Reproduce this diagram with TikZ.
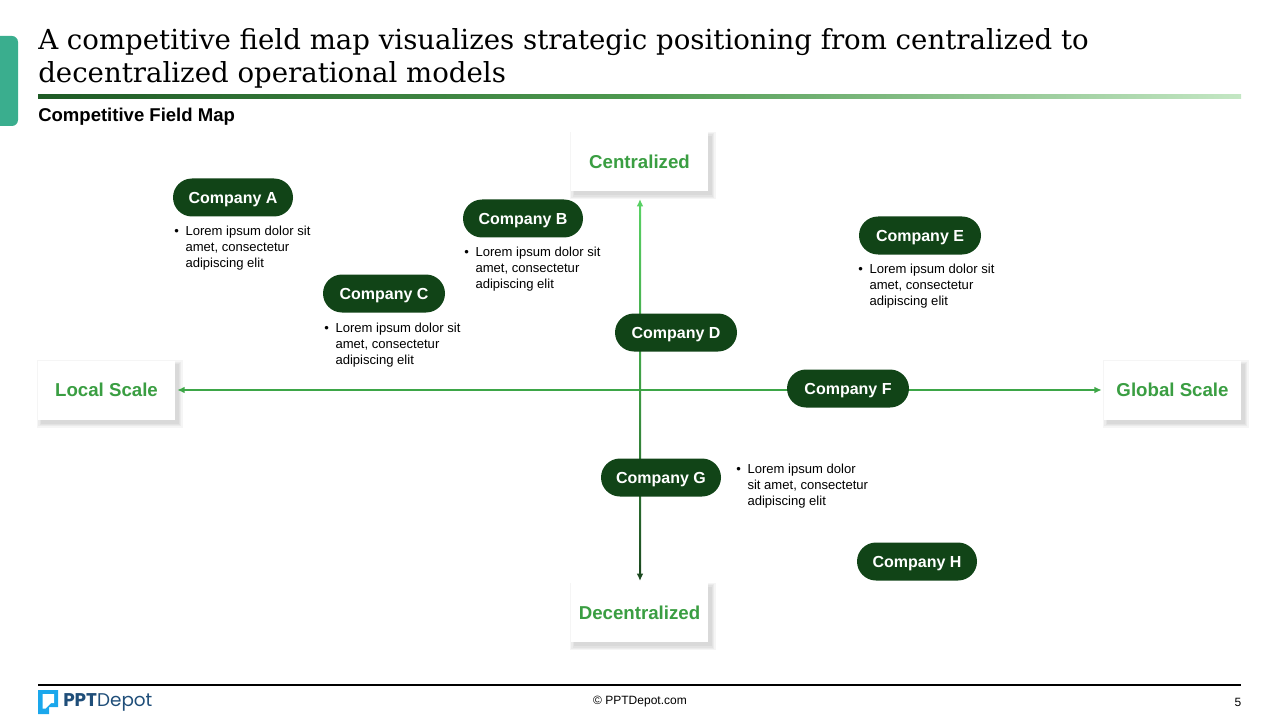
\documentclass[tikz,border=0pt]{standalone}
\usepackage{fontspec}
\setmainfont{Liberation Sans}
\newfontfamily\titlefont{DejaVu Serif}
\newfontfamily\logofont{Poppins}
\usetikzlibrary{shapes.misc, arrows.meta, backgrounds}
\definecolor{pill}{HTML}{114417}
\definecolor{axisg}{HTML}{3DA647}
\definecolor{labg}{HTML}{3A9E42}
\definecolor{vtop}{HTML}{58D063}
\definecolor{vmid}{HTML}{3E9C44}
\definecolor{vbot}{HTML}{1C4A20}
\definecolor{accent}{HTML}{3AAE8E}
\definecolor{logoblue}{HTML}{1AA7EC}
\definecolor{logodark}{HTML}{1F4E79}
\definecolor{lineL}{HTML}{1E5A25}
\definecolor{lineM}{HTML}{4E9A50}
\definecolor{lineR}{HTML}{C4E7C4}
\tikzset{
  pillbox/.style={rounded rectangle, fill=pill, text=white,
    font=\bfseries\fontsize{12}{14}\selectfont, minimum width=90pt,
    minimum height=28.5pt, inner sep=0pt, text height=8.6pt, text depth=0pt},
  axbox/.style={rectangle, fill=white,
    minimum width=102.75pt, minimum height=44.25pt, inner sep=0pt, text=labg,
    font=\bfseries\fontsize{14}{16}\selectfont, text height=10pt, text depth=0pt},
  bultext/.style={anchor=base west, inner sep=0pt, font=\fontsize{9.8}{12}\selectfont},
  axarrow/.style={line width=1.5pt, {Latex[length=5.5pt,width=5pt]}-{Latex[length=5.5pt,width=5pt]}}
}
\newcommand{\lorem}[3]{\begin{tabular}[t]{@{}l@{\hspace{5pt}}l@{}}\textbullet & #1\\ & #2\\ & #3\end{tabular}}
\newcommand{\softshadow}[1]{%
  \begin{pgfonlayer}{background}
  \foreach \e in {0,1,2,3}{%
    \fill[black, opacity=0.04] ([xshift=2.5pt-\e pt, yshift=-3pt+\e pt]#1.north west)
      rectangle ([xshift=2.5pt+\e pt, yshift=-3pt-\e pt]#1.south east);}
  \end{pgfonlayer}}
\begin{document}
\begin{tikzpicture}[x=0.75pt, y=-0.75pt]
\useasboundingbox (0,0) rectangle (1280,720);
% left accent
\fill[accent, rounded corners=4.5pt] (-10,36) rectangle (18,126);
% title
\node[anchor=base west, inner sep=0pt, align=left, font=\titlefont\fontsize{20.7}{24.75}\selectfont, text=black] (title) at (38,83)
  {A competitive field map visualizes strategic positioning from centralized to\\decentralized operational models};
\shade[left color=lineL, right color=lineR, middle color=lineM] (38,95) rectangle (1241,98.5);
\node[anchor=west, inner sep=0pt, font=\bfseries\fontsize{13.9}{16}\selectfont] (sub) at (38,117) {Competitive Field Map};
% axis boxes
\node[axbox] (cent) at (639.5,161.5) {Centralized};
\node[axbox] (dec) at (639.5,612.5) {Decentralized};
\node[axbox] (loc) at (106.5,390) {Local Scale};
\node[axbox] (glob) at (1172.5,390) {Global Scale};
\softshadow{cent}\softshadow{dec}\softshadow{loc}\softshadow{glob}
% horizontal axis
\draw[axarrow, axisg, shorten <=1.5pt, shorten >=1.5pt] (loc.east) -- (glob.west);
% vertical axis (shaded body + tips)
\coordinate (vt) at (640,199);
\coordinate (vb) at (640,581);
\shade[top color=vtop, bottom color=vbot, middle color=vmid] (639,204) rectangle (641,576);
\draw[vtop, line width=1.5pt, -{Latex[length=5.5pt,width=5pt]}] (640,215) -- (vt);
\draw[vbot, line width=1.5pt, -{Latex[length=5.5pt,width=5pt]}] (640,565) -- (vb);
% companies
\node[pillbox] (A) at (233,197.5) {Company A};
\node[pillbox] (B) at (523,218.5) {Company B};
\node[pillbox, minimum width=91.5pt] (C) at (384,293.5) {Company C};
\node[pillbox, minimum width=91.5pt] (D) at (676,332.5) {Company D};
\node[pillbox, minimum width=91.5pt] (E) at (920,235.5) {Company E};
\node[pillbox, minimum width=91.5pt] (F) at (848,388.5) {Company F};
\node[pillbox] (G) at (661,477.5) {Company G};
\node[pillbox] (H) at (917,561.5) {Company H};
% bullet texts
\node[bultext] (tA) at (174,236) {\lorem{Lorem ipsum dolor sit}{amet, consectetur}{adipiscing elit}};
\node[bultext] (tB) at (464,257) {\lorem{Lorem ipsum dolor sit}{amet, consectetur}{adipiscing elit}};
\node[bultext] (tC) at (324,332) {\lorem{Lorem ipsum dolor sit}{amet, consectetur}{adipiscing elit}};
\node[bultext] (tE) at (858,273) {\lorem{Lorem ipsum dolor sit}{amet, consectetur}{adipiscing elit}};
\node[bultext] (tG) at (736,473) {\lorem{Lorem ipsum dolor}{sit amet, consectetur}{adipiscing elit}};
% footer
\draw[black, line width=0.8pt] (38,685) -- (1241,685);
\fill[logoblue] (38,690) -- (58,690) -- (58,707) -- (49,707) -- (49,714) -- (38,714) -- cycle;
\fill[white] (42.5,694) -- (54,694) -- (54,703) -- (51,703) -- (45.5,708.5) -- (42.5,708.5) -- cycle;
\node[anchor=west, inner sep=0pt, text=logodark, font=\logofont\fontsize{13.8}{16}\selectfont] (logo) at (63,702) {\textbf{PPT}Depot};
\node[inner sep=0pt, font=\fontsize{9}{11}\selectfont] (copy) at (640,702) {© PPTDepot.com};
\node[inner sep=0pt, font=\fontsize{9}{11}\selectfont] (pg) at (1238,702) {5};
\end{tikzpicture}
\end{document}
